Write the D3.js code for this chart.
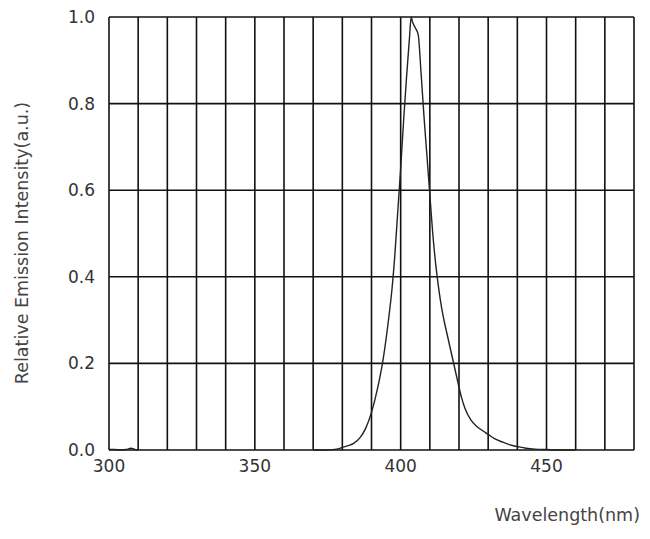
<!DOCTYPE html>
<html>
<head>
<meta charset="utf-8">
<script src="https://cdn.jsdelivr.net/npm/d3@7"></script>
<style>
  body { margin: 0; background: #fff; }
  text { font-family: "DejaVu Sans", Verdana, sans-serif; }
</style>
</head>
<body>
<script>
const width = 650;
const height = 539;

// emission spectrum (null = no data drawn)
const wavelength = [300, 302, 304, 306, 307.5, 309, 310, 311,
    370, 374, 378, 380, 382, 384, 386, 388, 390, 392, 394, 396, 397, 398, 399, 400, 401, 402, 403, 403.6,
    404, 405, 406, 407, 408, 409, 410, 411, 412, 413, 414, 415, 416, 417, 418, 419, 420, 421, 422, 424,
    426, 428, 430, 432, 435, 438, 440, 443, 446, 450, 455, 460];
const intensity = [0.001, 0.001, 0.0, 0.001, 0.004, 0.001, 0.0, null,
    0.0, 0.0, 0.002, 0.006, 0.01, 0.016, 0.028, 0.05, 0.087, 0.14, 0.21, 0.31, 0.37, 0.45, 0.55, 0.65, 0.76, 0.86, 0.95, 1.0,
    0.99, 0.975, 0.96, 0.87, 0.77, 0.68, 0.59, 0.50, 0.43, 0.375, 0.33, 0.295, 0.265, 0.235, 0.205, 0.175, 0.145, 0.118, 0.097, 0.07,
    0.055, 0.045, 0.036, 0.027, 0.018, 0.011, 0.008, 0.004, 0.002, 0.001, 0.0, 0.0];

const xTicks = [300, 350, 400, 450];
const yTicks = [0.0, 0.2, 0.4, 0.6, 0.8, 1.0];
const xGrid = d3.range(300, 481, 10);

const margin = {top: 17, right: 16, bottom: 89, left: 109};

const svg = d3.select('body').append('svg').attr('width', width).attr('height', height);

const x = d3.scaleLinear().domain([300, 480]).range([margin.left, width - margin.right]);
const y = d3.scaleLinear().domain([0, 1]).range([height - margin.bottom, margin.top]);

// grid
const grid = svg.append('g').attr('stroke', '#111').attr('stroke-width', 1.6);
grid.selectAll('line.v')
    .data(xGrid)
    .enter().append('line')
    .attr('class', 'v')
    .attr('x1', d => x(d)).attr('x2', d => x(d))
    .attr('y1', y(0)).attr('y2', y(1));
grid.selectAll('line.h')
    .data(yTicks)
    .enter().append('line')
    .attr('class', 'h')
    .attr('x1', x(300)).attr('x2', x(480))
    .attr('y1', d => y(d)).attr('y2', d => y(d));

// spectrum
const points = wavelength.map((w, i) => [w, intensity[i]]);
const line = d3.line()
    .defined(d => d[1] != null)
    .x(d => x(d[0]))
    .y(d => y(d[1]))
    .curve(d3.curveMonotoneX);

svg.append('path')
    .datum(points)
    .attr('fill', 'none')
    .attr('stroke', '#222')
    .attr('stroke-width', 1.4)
    .attr('d', line);

// tick labels
svg.append('g').selectAll('text')
    .data(yTicks)
    .enter().append('text')
    .attr('x', 95)
    .attr('y', d => y(d))
    .attr('dy', '0.35em')
    .attr('text-anchor', 'end')
    .attr('font-size', 17)
    .attr('fill', '#333')
    .text(d => d.toFixed(1));

svg.append('g').selectAll('text')
    .data(xTicks)
    .enter().append('text')
    .attr('x', d => x(d))
    .attr('y', 472)
    .attr('text-anchor', 'middle')
    .attr('font-size', 17)
    .attr('fill', '#333')
    .text(d => d);

// axis titles
svg.append('text')
    .attr('x', 640)
    .attr('y', 521)
    .attr('text-anchor', 'end')
    .attr('font-size', 17.5)
    .attr('fill', '#444')
    .text('Wavelength(nm)');

svg.append('text')
    .attr('transform', 'translate(28,243) rotate(-90)')
    .attr('text-anchor', 'middle')
    .attr('font-size', 17.5)
    .attr('fill', '#444')
    .text('Relative Emission Intensity(a.u.)');
</script>
</body>
</html>
